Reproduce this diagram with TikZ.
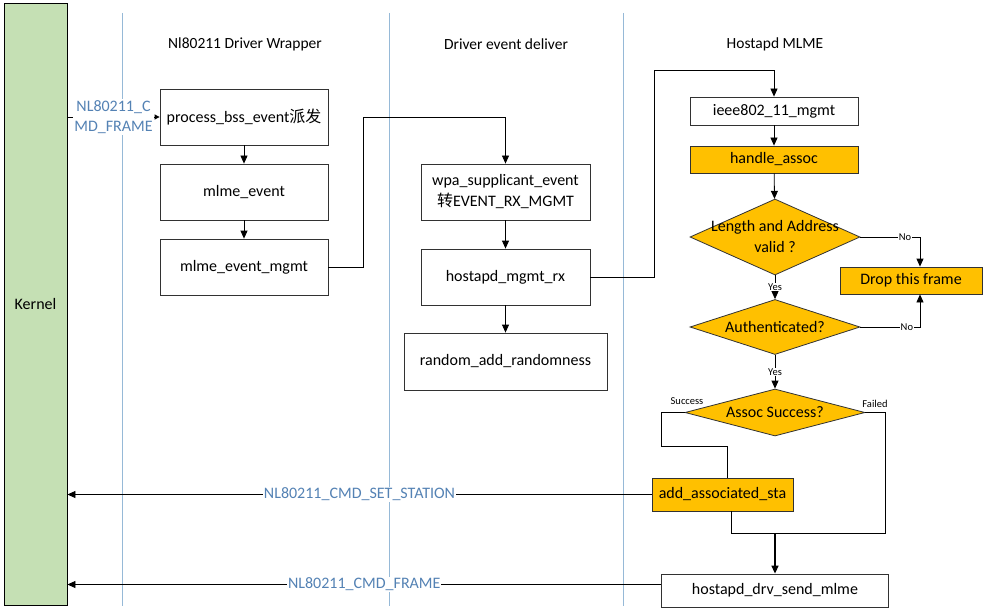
\documentclass[tikz,border=0pt]{standalone}
\usepackage{fontspec}
\setmainfont{Carlito}
\newfontfamily\cjk{Noto Sans CJK SC}
\usetikzlibrary{arrows.meta,shapes.geometric}
\definecolor{kernelgreen}{RGB}{197,224,180}
\definecolor{mlmeorange}{RGB}{255,192,0}
\definecolor{laneblue}{RGB}{150,185,215}
\definecolor{msgblue}{RGB}{84,130,180}
\definecolor{edgegray}{RGB}{50,50,50}

\begin{document}
\begin{tikzpicture}[x=1pt,y=-1pt,line width=0.8pt,
  >={Triangle[length=8pt,width=7pt]},
  txt/.style={font=\fontsize{16}{21}\selectfont, align=center},
  box/.style={txt, draw=edgegray, fill=white, minimum width=168pt, minimum height=56pt},
  hot/.style={box, fill=mlmeorange, minimum height=27pt},
  dec/.style={diamond, draw=edgegray, fill=mlmeorange, inner sep=0pt},
  lane/.style={laneblue, line width=0.7pt},
  msg/.style={font=\fontsize{16}{20}\selectfont, text=msgblue, fill=white, inner sep=1pt, align=center},
  tiny/.style={font=\fontsize{10.5}{12}\selectfont, fill=white, inner sep=0.5pt}]

\useasboundingbox (0,0) rectangle (988,615);

% kernel and the three lanes
\node[txt, draw, fill=kernelgreen, minimum width=63pt, minimum height=602pt] (kernel) at (35.5,304) {Kernel};
\foreach \x in {122,389,623} \draw[lane] (\x,13) -- (\x,606);

\node[txt, font=\fontsize{15.5}{18}\selectfont] (wrapper) at (245,44) {Nl80211 Driver Wrapper};
\node[txt, font=\fontsize{15.5}{18}\selectfont] (deliver) at (506,44) {Driver event deliver};
\node[txt, font=\fontsize{15.5}{18}\selectfont] (mlme) at (775,44) {Hostapd MLME};

% driver wrapper
\node[box] (pbe) at (244,117) {process\_bss\_event{\cjk 派发}};
\node[box] (mev) at (244,192) {mlme\_event};
\node[box] (mem) at (244,267) {mlme\_event\_mgmt};

% event deliver
\node[box, minimum width=169pt] (wse) at (505.5,192) {wpa\_supplicant\_event\\{\cjk 转}EVENT\_RX\_MGMT};
\node[box, minimum width=169pt] (hmr) at (505.5,277) {hostapd\_mgmt\_rx};
\node[box, minimum width=203pt, minimum height=57pt] (rar) at (505.5,361.5) {random\_add\_randomness};

% hostapd mlme
\node[box, minimum height=28pt] (iem) at (774,111) {ieee802\_11\_mgmt};
\node[hot] (has) at (774,159.5) {handle\_assoc};
\node[dec, minimum width=170pt, minimum height=76pt] (valid) at (775,237) {};
\node[txt] (validtext) at (valid) {Length and Address\\valid ?};
\node[hot, minimum width=142pt] (drop) at (911,280.5) {Drop this frame};
\node[dec, minimum width=170pt, minimum height=55pt] (auth) at (775,327) {};
\node[txt] (authtext) at (auth) {Authenticated?};
\node[dec, minimum width=180pt, minimum height=47pt] (succ) at (775,412.5) {};
\node[txt] (succtext) at (succ) {Assoc Success?};
\node[hot, minimum width=141pt, minimum height=33pt] (aas) at (722.5,494.5) {add\_associated\_sta};
\node[box, minimum width=227pt, minimum height=33pt] (hds) at (775,590.5) {hostapd\_drv\_send\_mlme};

\coordinate (nojoin) at (920,237);
\coordinate (merge) at (775,533);
\coordinate (hdsout) at ([yshift=6pt]hds.west);

% connectors
\draw[->, >={Triangle[length=5pt,width=5pt]}] (kernel.east |- pbe) -- node[msg] {NL80211\_C\\MD\_FRAME} (pbe);
\draw[->] (pbe) -- (mev);
\draw[->] (mev) -- (mem);
\draw[->] (mem.east) -| (363,117) -| (wse.north);
\draw[->] (wse) -- (hmr);
\draw[->] (hmr) -- (rar);
\draw[->] (hmr.east) -| (654,70) -| (iem.north);
\draw[->] (iem) -- (has);
\draw[->] (has) -- (valid);
\draw[->] (valid.east) -- node[tiny, pos=0.75] {No} (nojoin) -- (nojoin |- drop.north);
\draw[->] (auth.east) -- node[tiny, pos=0.78] {No} (auth.east -| nojoin) -- (nojoin |- drop.south);
\draw[->] (valid) -- node[tiny] {Yes} (auth);
\draw[->] (auth) -- node[tiny] {Yes} (succ);
\draw (succ.west) -| (661,446) -| ([xshift=4.5pt]aas.north);
\draw (succ.east) -| (885,533) -- (merge);
\draw ([xshift=8.5pt]aas.south) |- (merge);
\draw[->, line width=1.4pt] (merge) -- (hds);
\node[tiny, fill=none] (succlabel) at (687,401) {Success};
\node[tiny, fill=none] (faillabel) at (875,404) {Failed};

% messages back to the kernel
\draw[->] (aas.west) -- node[msg] {NL80211\_CMD\_SET\_STATION} (aas.west -| kernel.east);
\draw[->] (hdsout) -- node[msg] {NL80211\_CMD\_FRAME} (hdsout -| kernel.east);
\end{tikzpicture}
\end{document}
